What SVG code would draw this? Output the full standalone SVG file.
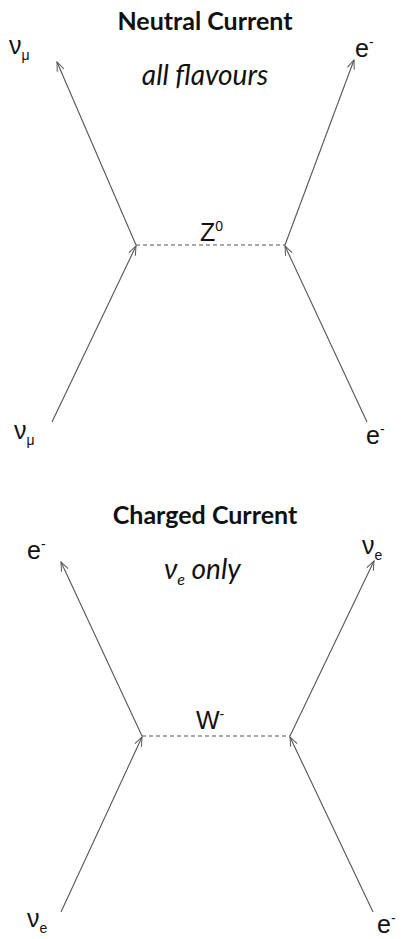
<svg xmlns="http://www.w3.org/2000/svg" width="412" height="939" viewBox="0 0 412 939">
<style>
.title{font-family:Lato,"Open Sans",sans-serif;font-weight:bold;font-size:25px;fill:#111;text-anchor:middle}
.sub{font-family:Lato,"Open Sans",sans-serif;font-style:italic;font-size:28px;fill:#111}
.lbl{font-family:"Liberation Sans",Arial,sans-serif;font-size:25px;fill:#111}
.sm{font-size:14px}
.line{stroke:#555;stroke-width:1.1;fill:none;marker-end:url(#arr)}
.dash{stroke:#555;stroke-width:1.1;fill:none;stroke-dasharray:4 3}
</style>
<defs>
<marker id="arr" viewBox="0 0 12 10" refX="11" refY="5" markerWidth="11" markerHeight="9" markerUnits="userSpaceOnUse" orient="auto">
<path d="M1,1 L11,5 L1,9" fill="none" stroke="#555" stroke-width="1.1"/>
</marker>
</defs>
<rect width="412" height="939" fill="#fff"/>

<g id="neutral-titles">
<text class="title" x="205" y="30">Neutral Current</text>
<text class="sub" x="205" y="85" text-anchor="middle">all flavours</text>
</g>
<g id="nc-numu-out"><text class="lbl" x="9" y="54">ν<tspan class="sm" dy="6">μ</tspan></text></g>
<g id="nc-e-out"><text class="lbl" x="355" y="57">e<tspan class="sm" dy="-10">-</tspan></text></g>
<g id="nc-z"><text class="lbl" x="200" y="241">Z<tspan class="sm" dy="-10">0</tspan></text></g>
<g id="nc-numu-in"><text class="lbl" x="14" y="439">ν<tspan class="sm" dy="6">μ</tspan></text></g>
<g id="nc-e-in"><text class="lbl" x="366" y="444">e<tspan class="sm" dy="-10">-</tspan></text></g>

<g id="charged-titles">
<text class="title" x="205" y="524">Charged Current</text>
<text class="sub" x="164" y="579">ν<tspan font-size="16" dy="6">e</tspan><tspan dy="-6"> only</tspan></text>
</g>
<g id="cc-e-out"><text class="lbl" x="27" y="559">e<tspan class="sm" dy="-10">-</tspan></text></g>
<g id="cc-nue-out"><text class="lbl" x="362" y="554">ν<tspan class="sm" dy="6">e</tspan></text></g>
<g id="cc-w"><text class="lbl" x="196" y="729">W<tspan class="sm" dy="-10">-</tspan></text></g>
<g id="cc-nue-in"><text class="lbl" x="27" y="927">ν<tspan class="sm" dy="6">e</tspan></text></g>
<g id="cc-e-in"><text class="lbl" x="377" y="933">e<tspan class="sm" dy="-10">-</tspan></text></g>

<g id="connectors">
<line class="line" x1="136" y1="245" x2="57" y2="62"/>
<line class="line" x1="285" y1="245" x2="354" y2="60"/>
<line class="line" x1="52" y1="422" x2="136" y2="246"/>
<line class="line" x1="367" y1="422" x2="285" y2="246"/>
<line class="dash" x1="136" y1="245" x2="285" y2="245"/>

<line class="line" x1="142" y1="736" x2="61" y2="562"/>
<line class="line" x1="290" y1="736" x2="374" y2="561"/>
<line class="line" x1="61" y1="912" x2="142" y2="737"/>
<line class="line" x1="373" y1="912" x2="290" y2="737"/>
<line class="dash" x1="142" y1="736" x2="290" y2="736"/>
</g>
</svg>
